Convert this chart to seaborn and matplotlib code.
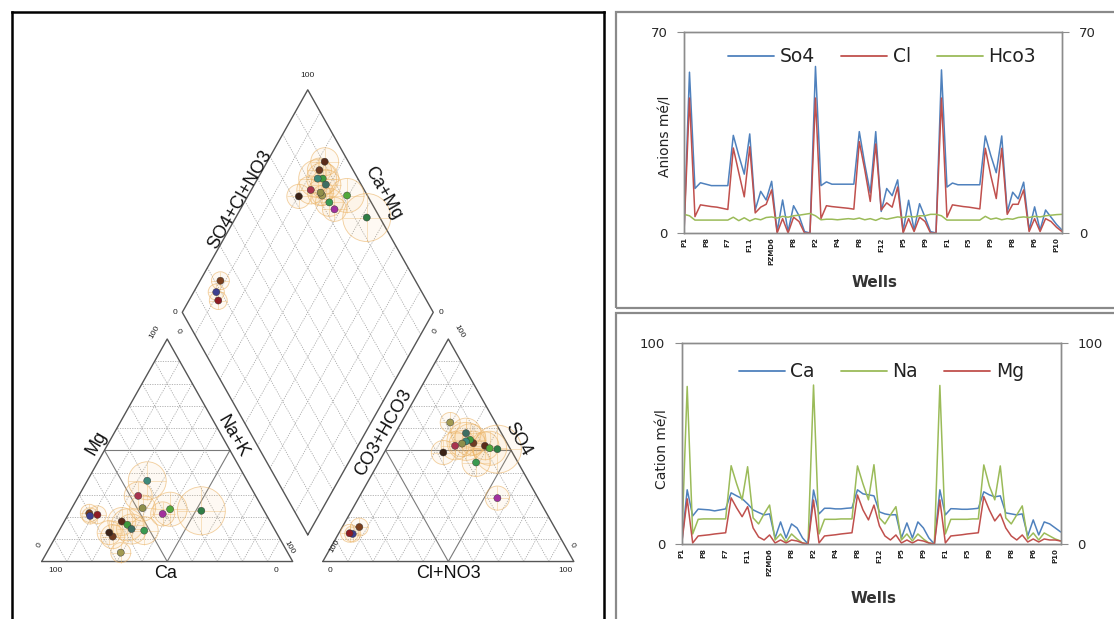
import numpy as np
import pandas as pd
import matplotlib
matplotlib.use("Agg")
import matplotlib.pyplot as plt
from matplotlib.lines import Line2D
from matplotlib.patches import Rectangle
import seaborn as sns

# ---------------- well series (meq/l), three campaigns + last well ----------------
so4 = [0, 56, 15.5, 17.5, 17, 16.5, 16.5, 16.5, 16.5, 34, 27, 20.5, 34.5, 8, 14.5, 11.5, 18, 0.5, 11.5, 0.5, 9.5, 6, 0.5,
       0, 58, 16.5, 17.8, 17, 17, 17, 17, 17, 35.3, 24, 14, 35.3, 7.5, 15.5, 13, 18.5, 0.7, 11.4, 1, 10.2, 5.5, 0.5,
       0, 56.8, 16, 17.4, 16.8, 16.8, 16.8, 16.8, 16.8, 33.8, 27, 21, 33.8, 7.3, 14.2, 11.9, 17.7, 1, 9.1, 1, 8, 5.5, 3,
       1]
cl = [0, 47, 5.7, 9.8, 9.5, 9.2, 9, 8.6, 8.2, 29.6, 21, 12.6, 30, 7, 9, 10, 15, 0, 5, 0, 5.5, 4, 0,
      0, 47, 5, 9.5, 9.2, 9, 8.8, 8.6, 8.3, 31.8, 22, 11, 31, 8, 10.5, 9, 16, 0, 5, 0.5, 5.5, 4, 0,
      0, 47, 5.5, 9.8, 9.5, 9.2, 9, 8.7, 8.4, 29.5, 20, 12, 29.5, 6.5, 10, 10, 15, 0.5, 5, 0.5, 5, 4, 2,
      0.5]
hco3 = [6.5, 6, 4.5, 4.5, 4.5, 4.5, 4.5, 4.5, 4.5, 5.5, 4.3, 5.3, 4.2, 5, 4.6, 5.4, 5.6, 5.2, 5.8, 5.5, 6, 6.2, 6.5,
        6.8, 6, 4.6, 4.8, 4.8, 4.6, 4.8, 5, 4.8, 5.2, 4.6, 5, 4.4, 5.2, 4.8, 5.2, 5.6, 5.4, 5.8, 5.6, 6, 6, 6.5,
        6.5, 6, 4.5, 4.5, 4.5, 4.5, 4.5, 4.5, 4.5, 5.8, 4.8, 5.2, 4.6, 5, 4.8, 5.4, 5.6, 5.4, 5.8, 5.6, 6, 6.2, 6.4,
        6.5]

ca = [0, 27, 14, 17.4, 17.2, 17, 16.5, 17, 17.5, 25.5, 24, 22.6, 20, 17, 15.7, 14.5, 15, 3, 11, 3, 10, 8, 3,
      0, 26.9, 15, 17.8, 17.8, 17.5, 17.5, 17.8, 18, 27, 25, 24.5, 24, 16, 15, 14.5, 14.6, 3, 10.5, 3, 11, 8, 3,
      0, 27, 14.5, 17.6, 17.5, 17.3, 17.3, 17.5, 17.8, 26, 24.5, 23.5, 24, 15.5, 15, 14.5, 15, 4, 12, 4.5, 11, 10, 8,
      6]
na = [0, 78.5, 5, 12.3, 12.5, 12.5, 12.5, 12.5, 12.5, 39, 30, 22, 38.5, 13, 10, 15, 19.4, 2, 5, 1, 5, 2.5, 0.5,
      0, 79.2, 5, 12.3, 12.3, 12.3, 12.5, 12.5, 12.5, 38.9, 30, 22, 39.5, 13, 10, 14.5, 18.6, 2, 5, 1.5, 5, 2.5, 0.5,
      0, 79, 5, 12.3, 12.3, 12.3, 12.3, 12.5, 12.5, 39.4, 29, 22, 38.9, 13, 10, 14.5, 19, 2.5, 5.5, 2, 5.5, 4, 2.5,
      1.5]
mg = [0, 22.5, 0.5, 4, 4.3, 4.6, 5, 5.3, 5.6, 23, 18, 13.6, 18.6, 8, 3.5, 2, 4.5, 0.5, 2, 0.5, 2, 1.5, 0.5,
      0, 21.9, 0.5, 4, 4.3, 4.6, 5, 5.3, 5.6, 24.4, 17, 12, 19.4, 9, 4, 2, 4.5, 0.5, 2, 0.5, 2, 1.5, 0.5,
      0, 22, 0.5, 4, 4.3, 4.6, 5, 5.3, 5.6, 23.6, 17, 11.5, 15, 8, 4, 2, 4.5, 1, 2.5, 1, 2.5, 2, 2,
      1.5]

well_ticks = ['P1', 'P8', 'F7', 'F11', 'PZMD6', 'P8', 'P2', 'P4', 'P8', 'F12', 'P5', 'P9',
              'F1', 'F5', 'P9', 'P8', 'P6', 'P10']

# ---------------- Piper samples (% of meq) ----------------
samples = ['S1', 'S2', 'S3', 'S4', 'S5', 'S6', 'S7', 'S8',
           'S9', 'S10', 'S11', 'S12', 'S13', 'S14', 'S15', 'S16']
cat_nak = [8.1, 9.0, 11.7, 22.9, 22.7, 25.9, 28.5, 23.7, 20.4, 29.5, 39.4, 33.9, 37.5, 52.2, 23.9, 28.2]
cat_mg = [21.7, 20.5, 21.0, 18.0, 11.2, 16.5, 14.6, 29.5, 13.0, 4.0, 23.5, 13.9, 21.4, 22.8, 36.3, 24.0]
an_so4 = [15.5, 12.4, 12.7, 52.0, 53.2, 54.7, 57.7, 52.0, 49.0, 62.5, 50.9, 44.5, 28.5, 50.5, 54.0, 53.0]
an_cl = [6.8, 5.7, 4.3, 38.6, 33.4, 31.3, 28.2, 26.7, 23.5, 19.5, 41.0, 38.8, 55.3, 44.3, 30.0, 29.0]
tds = [800, 650, 800, 1950, 1450, 2550, 2250, 1950, 1450, 1000, 2900, 1950, 1450, 5750, 3600, 1700]

sample_colors = ['#7b3f1d', '#3d3f8f', '#8e1c24', '#5b2c1a', '#6e3b22', '#3f9a3c', '#3e6e62', '#a8334e',
                 '#3b2318', '#a29a52', '#52a83b', '#3a9a50', '#a2309e', '#2f7d45', '#3d8a7a', '#8f8f4a']

sns.set_theme(style="white")
plt.rcParams['font.family'] = ['DejaVu Sans']

H = np.sqrt(3) / 2
G = 0.12  # gap between the two triangles


def cation_xy(nak, mgv):
    nak = np.asarray(nak) / 100
    mgv = np.asarray(mgv) / 100
    return nak + 0.5 * mgv, H * mgv


def anion_xy(clv, so4v):
    clv = np.asarray(clv) / 100
    so4v = np.asarray(so4v) / 100
    return 1 + G + clv + 0.5 * so4v, H * so4v


def diamond_xy(p, q):
    return 1 + G / 2 + 0.5 * (q - p), G * H + H * (p + q)


def draw_piper(ax):
    grid_kw = dict(color='#a3a3a3', lw=0.55, ls=(0, (1.6, 1.6)), zorder=1)
    mid_kw = dict(color='#7a7a7a', lw=0.8, zorder=1)
    edge_kw = dict(color='#555555', lw=1.0, zorder=2)
    fr = np.arange(1, 10) / 10
    for x0 in (0, 1 + G):
        for f in fr:
            kw = mid_kw if abs(f - 0.5) < 1e-9 else grid_kw
            ax.plot([x0 + f / 2, x0 + 1 - f / 2], [f * H, f * H], **kw)
            ax.plot([x0 + f, x0 + 0.5 + f / 2], [0, (1 - f) * H], **kw)
            ax.plot([x0 + f, x0 + f / 2], [0, f * H], **kw)
        ax.plot([x0, x0 + 1, x0 + 0.5, x0], [0, 0, H, 0], **edge_kw)
    for f in fr:
        xa, ya = diamond_xy(0, f)
        xb, yb = diamond_xy(1, f)
        ax.plot([xa, xb], [ya, yb], **grid_kw)
        xa, ya = diamond_xy(f, 0)
        xb, yb = diamond_xy(f, 1)
        ax.plot([xa, xb], [ya, yb], **grid_kw)
    corners = [diamond_xy(*c) for c in [(0, 0), (1, 0), (1, 1), (0, 1), (0, 0)]]
    ax.plot([c[0] for c in corners], [c[1] for c in corners], **edge_kw)

    # sample positions
    cx, cy = cation_xy(cat_nak, cat_mg)
    axx, axy = anion_xy(an_cl, an_so4)
    p = 1 - np.asarray(cat_nak) / 100
    q = (np.asarray(an_so4) + np.asarray(an_cl)) / 100
    dx, dy = diamond_xy(p, q)
    pts = pd.DataFrame({
        'x': np.concatenate([cx, axx, dx]),
        'y': np.concatenate([cy, axy, dy]),
        'sample': samples * 3,
        'tds': tds * 3,
    })
    circle_s = pts['tds'] * 0.2074
    ax.scatter(pts['x'], pts['y'], s=circle_s, facecolor=(0.97, 0.74, 0.42, 0.08),
               edgecolor=(0.92, 0.70, 0.40, 0.6), linewidth=0.65, zorder=3)
    ax.scatter(pts['x'], pts['y'], s=circle_s, marker='+', color=(0.93, 0.72, 0.42, 0.5),
               linewidth=0.55, zorder=3)
    sns.scatterplot(data=pts, x='x', y='y', hue='sample', palette=dict(zip(samples, sample_colors)),
                    s=26, edgecolor='#333333', linewidth=0.3, legend=False, zorder=4, ax=ax)

    tf = ['Liberation Sans', 'DejaVu Sans']
    lab = dict(fontsize=13, family=tf, ha='center', va='center', color='#111111')
    ax.text(0.219, 0.462, 'Mg', rotation=60, **lab)
    ax.text(0.763, 0.486, 'Na+K', rotation=-60, **lab)
    ax.text(0.494, -0.047, 'Ca', **lab)
    ax.text(1.620, -0.047, 'Cl+NO3', **lab)
    ax.text(1.899, 0.474, 'SO4', rotation=-60, **lab)
    ax.text(1.361, 0.500, 'CO3+HCO3', rotation=60, **lab)
    ax.text(0.790, 1.407, 'SO4+Cl+NO3', rotation=60, **lab)
    ax.text(1.361, 1.433, 'Ca+Mg', rotation=-60, **lab)

    sm = dict(fontsize=6, family=tf, ha='center', va='center', color='#222222')
    ax.text(0.053, -0.036, '100', **sm)
    ax.text(0.934, -0.036, '0', **sm)
    ax.text(-0.010, 0.065, '0', rotation=60, **sm)
    ax.text(0.985, 0.055, '100', rotation=-60, **sm)
    ax.text(0.45, 0.895, '100', rotation=60, **sm)
    ax.text(0.545, 0.895, '0', rotation=-60, **sm)
    ax.text(1.149, -0.036, '0', **sm)
    ax.text(2.085, -0.036, '100', **sm)
    ax.text(1.165, 0.060, '100', rotation=60, **sm)
    ax.text(2.113, 0.065, '0', rotation=-60, **sm)
    ax.text(1 + G + 0.45, 0.895, '0', rotation=60, **sm)
    ax.text(1 + G + 0.545, 0.895, '100', rotation=-60, **sm)
    ax.text(1.057, 1.890, '100', **sm)
    ax.text(0.530, 0.971, '0', **sm)
    ax.text(1.592, 0.971, '0', **sm)

    ax.set_xlim(-0.1183, 2.2402)
    ax.set_ylim(-0.2237, 2.1389)
    ax.set_xticks([])
    ax.set_yticks([])
    ax.set_xlabel('')
    ax.set_ylabel('')
    for side, sp in ax.spines.items():
        sp.set_color('black')
        sp.set_linewidth(1.8)
    ax.spines['bottom'].set_visible(False)


def draw_lines(ax, names, series, colors, ymax, ylabel, leg_xy, ylab_y, wells_y):
    df = pd.DataFrame(dict(zip(names, series)))
    df['pos'] = np.arange(len(df))
    long = df.melt(id_vars='pos', var_name='ion', value_name='meq')
    sns.lineplot(data=long, x='pos', y='meq', hue='ion', hue_order=names,
                 palette=dict(zip(names, colors)), lw=1.1, legend=False, ax=ax)
    ax.set_xlim(0, len(df) - 1)
    ax.set_ylim(0, ymax)
    ax.set_yticks([0, ymax])
    ax.set_xticks(np.arange(0, len(df), 4))
    ax.set_xticklabels(well_ticks, rotation=90, fontsize=5, fontweight='bold', color='#222222')
    ax.set_xlabel('')
    ax.set_ylabel('')
    ax.tick_params(axis='y', length=5, width=0.8, color='#8c8c8c', labelsize=9.5, pad=7,
                   direction='out', left=True)
    ax.tick_params(axis='x', length=0, pad=3)
    for sp in ax.spines.values():
        sp.set_color('#8c8c8c')
        sp.set_linewidth(1.0)
    right = ax.twinx()
    right.set_ylim(0, ymax)
    right.set_yticks([0, ymax])
    right.tick_params(axis='y', length=5, width=0.8, color='#8c8c8c', labelsize=9.5, pad=7,
                      direction='out', right=True)
    right.grid(False)
    for sp in right.spines.values():
        sp.set_color('#8c8c8c')
        sp.set_linewidth(1.0)

    handles = [Line2D([], [], color=c, lw=1.3) for c in colors]
    ax.legend(handles, names, loc='center', bbox_to_anchor=leg_xy, ncol=3, frameon=False,
              fontsize=13.5, handlelength=2.45, handletextpad=0.3, columnspacing=1.4,
              labelcolor='#222222')
    ax.text(-0.05, ylab_y, ylabel, transform=ax.transAxes, rotation=90, ha='center',
            va='center', fontsize=10, color='#222222')
    ax.text(0.505, wells_y, 'Wells', transform=ax.transAxes, ha='center', va='center',
            fontsize=11, fontweight='bold', color='#333333')


fig = plt.figure(figsize=(11.14, 6.19), dpi=100)

ax_p = fig.add_axes([12 / 1114, 0, 592 / 1114, 607 / 619])
draw_piper(ax_p)

ax_a = fig.add_axes([684 / 1114, 1 - 233 / 619, 378 / 1114, 201 / 619])
draw_lines(ax_a, ['So4', 'Cl', 'Hco3'], [so4, cl, hco3], ['#4f81bd', '#c0504d', '#9bbb59'],
           70, 'Anions mé/l', (0.524, 0.877), 0.479, -0.246)

ax_c = fig.add_axes([681.7 / 1114, 1 - 544 / 619, 379 / 1114, 200.7 / 619])
draw_lines(ax_c, ['Ca', 'Na', 'Mg'], [ca, na, mg], ['#4f81bd', '#9bbb59', '#c0504d'],
           100, 'Cation mé/l', (0.527, 0.858), 0.473, -0.27)

# panel frames on the right side
fig.add_artist(Rectangle((616 / 1114, 1 - 308.3 / 619), 0.46, (308.3 - 11.7) / 619,
                         transform=fig.transFigure, fill=False, edgecolor='#8a8a8a', lw=1.6))
fig.add_artist(Rectangle((616 / 1114, -0.01), 0.46, 1 - 313.3 / 619 + 0.01,
                         transform=fig.transFigure, fill=False, edgecolor='#8a8a8a', lw=1.6))

fig.savefig('out.png', dpi=100)
